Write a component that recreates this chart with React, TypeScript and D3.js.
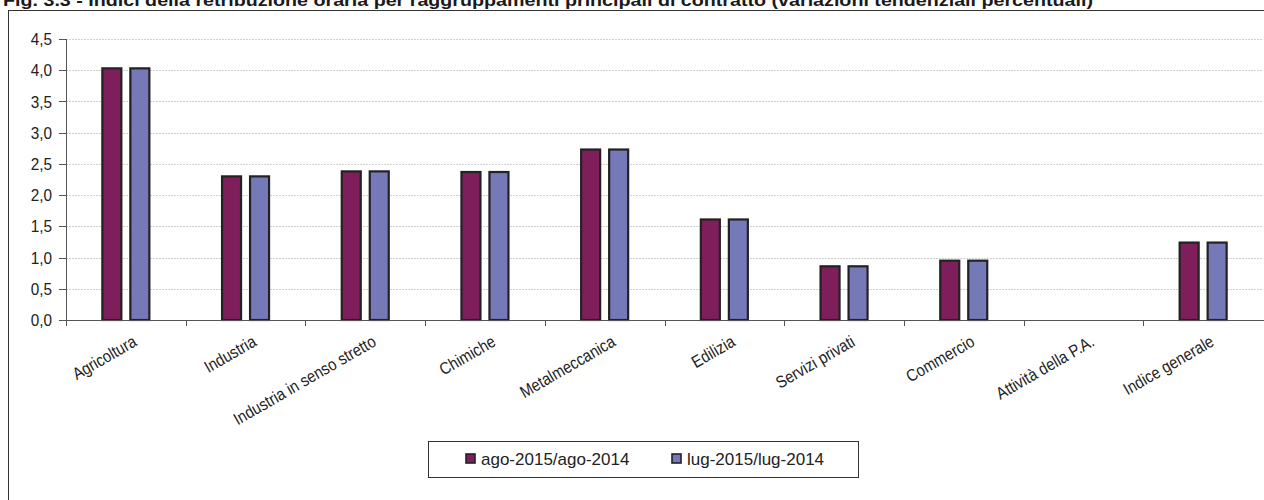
import React from "react";
import * as d3 from "d3";

const categories = [
  "Agricoltura",
  "Industria",
  "Industria in senso stretto",
  "Chimiche",
  "Metalmeccanica",
  "Edilizia",
  "Servizi privati",
  "Commercio",
  "Attività della P.A.",
  "Indice generale",
];
const seriesNames = ["ago-2015/ago-2014", "lug-2015/lug-2014"];
const agoValues = [4.03, 2.3, 2.38, 2.37, 2.73, 1.61, 0.86, 0.95, 0.0, 1.24];
const lugValues = [4.03, 2.3, 2.38, 2.37, 2.73, 1.61, 0.86, 0.95, 0.0, 1.24];
const yTicks = [0, 0.5, 1, 1.5, 2, 2.5, 3, 3.5, 4, 4.5];
const colors = ["#7E1F5B", "#7579B8"];
const title =
  "Fig. 3.3 - Indici della retribuzione oraria per raggruppamenti principali di contratto (variazioni tendenziali percentuali)";

const W = 1264;
const H = 500;
const FONT = "'Liberation Sans', Arial, sans-serif";

export default function App() {
  const plotLeft = 66;
  const plotRight = 1263;
  const plotTop = 39;
  const plotBottom = 320;

  const x0 = d3.scaleBand<string>().domain(categories).range([plotLeft, plotRight]).paddingInner(0).paddingOuter(0);
  const groupW = 49;
  const x1 = d3.scaleBand<string>().domain(seriesNames).range([0, groupW]).paddingInner(0.25);
  const y = d3.scaleLinear().domain([0, 4.5]).range([plotBottom, plotTop]);
  const fmt = (v: number) => v.toFixed(1).replace(".", ",");
  const series = [agoValues, lugValues];

  return (
    <svg width={W} height={H} style={{ position: "absolute", left: 0, top: 0, background: "#fff" }} fontFamily={FONT}>
      <rect x={0} y={0} width={W} height={H} fill="#fff" />
      <text x={3} y={6} fontSize={16} fontWeight="bold" fill="#1a1a1a" textLength={1090} lengthAdjust="spacingAndGlyphs">
        {title}
      </text>
      <rect x={8.5} y={10.5} width={W + 20} height={H + 20} fill="none" stroke="#333" strokeWidth={1} />

      {/* grid */}
      {yTicks.filter((t) => t > 0).map((t) => (
        <line key={"g" + t} x1={plotLeft} x2={plotRight} y1={Math.round(y(t)) + 0.5} y2={Math.round(y(t)) + 0.5} stroke="#d0d0d0" strokeDasharray="2,1" strokeWidth={1} />
      ))}

      {/* bars */}
      {categories.map((c, i) => {
        const gx = (x0(c) as number) + (x0.bandwidth() - groupW) / 2;
        return series.map((vals, s) => {
          const v = vals[i];
          if (v <= 0) return null;
          const bx = gx + (x1(seriesNames[s]) as number);
          return (
            <rect
              key={c + s}
              x={bx + 1}
              y={y(v)}
              width={x1.bandwidth() - 2}
              height={y(0) - y(v)}
              fill={colors[s]}
              stroke="#222"
              strokeWidth={2.2}
            />
          );
        });
      })}

      {/* y axis */}
      <line x1={plotLeft + 0.5} x2={plotLeft + 0.5} y1={plotTop} y2={plotBottom} stroke="#555" />
      {yTicks.map((t) => (
        <g key={"yt" + t}>
          <line x1={plotLeft - 7} x2={plotLeft} y1={Math.round(y(t)) + 0.5} y2={Math.round(y(t)) + 0.5} stroke="#555" />
          <text transform={`translate(52,${y(t)}) scale(0.9,1)`} dy="0.36em" textAnchor="end" fontSize={17} fill="#222">
            {fmt(t)}
          </text>
        </g>
      ))}

      {/* x axis */}
      <line x1={plotLeft} x2={W} y1={plotBottom + 0.5} y2={plotBottom + 0.5} stroke="#555" />
      {categories.map((c) => (
        <line key={"xt" + c} x1={Math.round(x0(c) as number) + 0.5} x2={Math.round(x0(c) as number) + 0.5} y1={plotBottom} y2={plotBottom + 6} stroke="#555" />
      ))}
      {categories.map((c) => {
        const cx = (x0(c) as number) + x0.bandwidth() / 2;
        return (
          <text
            key={"xl" + c}
            transform={`translate(${cx + 12},${plotBottom + 25}) rotate(-30) scale(0.87,1)`}
            textAnchor="end"
            fontSize={17}
            fill="#222"
          >
            {c}
          </text>
        );
      })}

      {/* legend */}
      <rect x={428.5} y={441.5} width={430} height={36} fill="#fff" stroke="#333" />
      {seriesNames.map((s, i) => {
        const lx = i === 0 ? 466 : 672;
        return (
          <g key={"lg" + s}>
            <rect x={lx} y={454} width={9} height={9} fill={colors[i]} stroke="#222" strokeWidth={1.6} />
            <text x={lx + 15} y={465} fontSize={17} fill="#222">
              {s}
            </text>
          </g>
        );
      })}
    </svg>
  );
}
